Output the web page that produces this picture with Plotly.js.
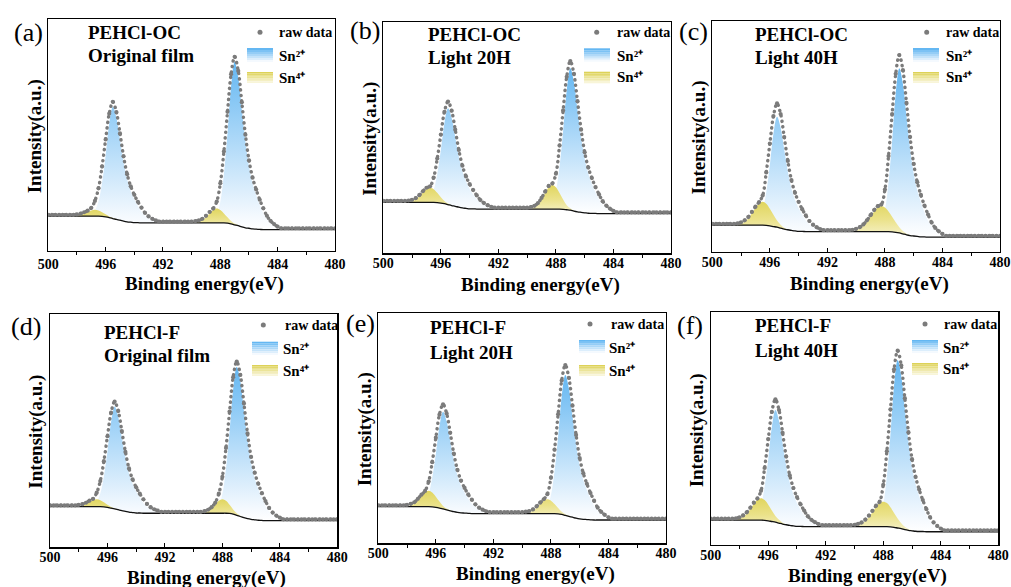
<!DOCTYPE html>
<html><head><meta charset="utf-8">
<script src="https://cdn.plot.ly/plotly-3.0.1.min.js"></script>
<style>
html,body{margin:0;padding:0;background:#fff;}
#chart{width:1011px;height:587px;}
.scatterlayer path.js-line{stroke-linecap:round !important;}
</style></head><body><div id="chart"></div>
<script>
// ---------------- DATA ----------------
const energy = [
500,499.75,499.5,499.25,499,498.75,498.5,498.25,498,497.75,
497.5,497.25,497,496.75,496.5,496.25,496,495.75,495.5,495.25,
495,494.75,494.5,494.25,494,493.75,493.5,493.25,493,492.75,
492.5,492.25,492,491.75,491.5,491.25,491,490.75,490.5,490.25,
490,489.75,489.5,489.25,489,488.75,488.5,488.25,488,487.75,
487.5,487.25,487,486.75,486.5,486.25,486,485.75,485.5,485.25,
485,484.75,484.5,484.25,484,483.75,483.5,483.25,483,482.75,
482.5,482.25,482,481.75,481.5,481.25,481,480.75,480.5,480.25,
480];
const tickValues = [500,496,492,488,484,480];
const minorTickValues = [498,494,490,486,482];
const panelLabels = ['(a)','(b)','(c)','(d)','(e)','(f)'];
const sampleNames = ['PEHCl-OC','PEHCl-OC','PEHCl-OC','PEHCl-F','PEHCl-F','PEHCl-F'];
const conditions = ['Original film','Light 20H','Light 40H','Original film','Light 20H','Light 40H'];
const seriesNames = ['raw data','Sn\u00b2\u207a','Sn\u2074\u207a'];
const xTitle = 'Binding energy(eV)';
const yTitle = 'Intensity(a.u.)';

// (a) PEHCl-OC original film
const rawA = [
15.6,15.6,15.6,15.6,15.6,15.6,15.6,15.6,15.8,16.1,
16.7,17.4,18.6,21.6,27.0,36.4,48.1,59.2,64.3,59.9,
50.7,40.8,33.1,27.9,24.2,21.2,18.7,16.4,14.9,13.9,
13.2,12.7,12.7,12.7,12.7,12.7,12.7,12.7,12.7,12.7,
12.7,12.9,13.2,13.9,15.2,16.8,18.3,21.3,29.2,42.9,
60.0,76.2,83.7,77.6,64.1,50.1,39.1,31.6,26.5,22.1,
18.4,15.2,13.0,11.6,10.5,9.8,9.8,9.8,9.8,9.8,
9.8,9.8,9.8,9.8,9.8,9.8,9.8,9.8,9.8,9.8,
9.8];
const baseA = [
15,15,15,15,15,15,15,15,15,15,
15,15,15,15,15,14.9,14.7,14.4,14.0,13.6,
13.3,12.9,12.6,12.4,12.2,12.2,12.1,12.1,12.1,12.1,
12.1,12.1,12.1,12.1,12.1,12.1,12.1,12.1,12.1,12.1,
12.1,12.1,12.1,12.1,12.1,12.1,12.1,12.1,12.1,12.1,
12.0,11.7,11.3,10.9,10.4,10.0,9.8,9.5,9.4,9.3,
9.2,9.2,9.2,9.2,9.2,9.2,9.2,9.2,9.2,9.2,
9.2,9.2,9.2,9.2,9.2,9.2,9.2,9.2,9.2,9.2,
9.2];
const sn2A = [
0,0,0,0,0,0,0,0,0,0,
0,0,0.7,2.4,6.3,14.5,26.5,40.5,48.2,43.9,
34.7,25.5,18.3,13.5,10.1,7.2,4.8,3.1,1.9,1.0,
0,0,0,0,0,0,0,0,0,0,
0,0,0,0,0,0,1.1,3.5,9.1,21.1,
38.7,59.1,70.3,64.0,50.6,37.3,26.7,19.7,14.8,10.5,
7.0,4.6,2.8,1.4,0,0,0,0,0,0,
0,0,0,0,0,0,0,0,0,0,
0];
const sn4A = [
0,0,0,0,0,0,0,0.1,0.2,0.5,
1.1,1.8,2.5,2.8,2.5,1.8,1.1,0.5,0.2,0.1,
0,0,0,0,0,0,0,0,0,0,
0,0,0,0,0,0,0,0,0,0,
0,0.2,0.5,1.2,2.5,4.1,5.6,6.2,5.6,4.1,
2.5,1.2,0.5,0.2,0,0,0,0,0,0,
0,0,0,0,0,0,0,0,0,0,
0,0,0,0,0,0,0,0,0,0,
0];

// (b) PEHCl-OC light 20H
const rawB = [
22.6,22.6,22.6,22.6,22.6,22.6,22.6,22.8,23.1,23.8,
25.1,26.8,28.3,28.9,32.7,40.9,51.3,61.1,65.5,61.6,
53.4,44.6,37.8,33.2,29.9,27.3,25.0,23.0,21.7,20.8,
20.1,19.7,19.7,19.7,19.7,19.7,19.7,19.7,19.7,19.7,
19.7,20.0,20.5,21.7,23.9,26.6,29.1,30.1,34.4,46.5,
61.7,76.2,83.0,77.5,65.7,53.4,43.6,37.0,32.5,28.6,
25.4,22.5,20.6,19.3,18.3,17.7,17.7,17.7,17.7,17.7,
17.7,17.7,17.7,17.7,17.7,17.7,17.7,17.7,17.7,17.7,
17.7];
const baseB = [
22,22,22,22,22,22,22,22,22,22,
22,22,22,22,22,21.9,21.7,21.4,21.0,20.6,
20.3,19.9,19.6,19.4,19.2,19.2,19.1,19.1,19.1,19.1,
19.1,19.1,19.1,19.1,19.1,19.1,19.1,19.1,19.1,19.1,
19.1,19.1,19.1,19.1,19.1,19.1,19.1,19.1,19.1,19.1,
19.0,18.8,18.6,18.2,17.9,17.7,17.5,17.3,17.2,17.2,
17.1,17.1,17.1,17.1,17.1,17.1,17.1,17.1,17.1,17.1,
17.1,17.1,17.1,17.1,17.1,17.1,17.1,17.1,17.1,17.1,
17.1];
const sn2B = [
0,0,0,0,0,0,0,0,0,0,
0,0,0.6,2.1,5.4,12.5,22.9,34.9,41.6,37.9,
30.0,22.0,15.8,11.6,8.7,6.2,4.2,2.7,1.7,0.8,
0,0,0,0,0,0,0,0,0,0,
0,0,0,0,0,0,0.9,3.1,8.0,18.4,
33.7,51.5,61.3,55.8,44.1,32.5,23.3,17.2,12.9,9.2,
6.1,4.0,2.5,1.2,0,0,0,0,0,0,
0,0,0,0,0,0,0,0,0,0,
0];
const sn4B = [
0,0,0,0,0,0,0,0.2,0.5,1.2,
2.5,4.2,5.7,6.3,5.7,4.2,2.5,1.2,0.5,0.2,
0,0,0,0,0,0,0,0,0,0,
0,0,0,0,0,0,0,0,0,0,
0,0.3,0.8,2.0,4.2,6.9,9.4,10.4,9.4,6.9,
4.2,2.0,0.8,0.3,0,0,0,0,0,0,
0,0,0,0,0,0,0,0,0,0,
0,0,0,0,0,0,0,0,0,0,
0];

// (c) PEHCl-OC light 40H
const rawC = [
12.1,12.1,12.1,12.1,12.1,12.1,12.1,12.3,12.7,13.6,
15.0,17.2,19.5,21.5,24.3,34.3,46.8,58.7,64.2,59.6,
49.6,39.3,31.0,25.5,21.6,18.4,15.7,13.3,11.7,10.6,
9.8,9.3,9.3,9.3,9.3,9.3,9.3,9.3,9.3,9.5,
9.9,10.6,11.8,13.6,15.8,18.0,19.7,20.4,26.9,41.4,
59.6,77.0,85.1,78.6,64.4,49.6,38.0,30.1,24.6,20.0,
16.1,12.6,10.3,8.8,7.7,6.9,6.9,6.9,6.9,6.9,
6.9,6.9,6.9,6.9,6.9,6.9,6.9,6.9,6.9,6.9,
6.9];
const baseC = [
11.5,11.5,11.5,11.5,11.5,11.5,11.5,11.5,11.5,11.5,
11.5,11.5,11.5,11.5,11.5,11.4,11.2,10.9,10.6,10.2,
9.8,9.5,9.2,9.0,8.8,8.8,8.7,8.7,8.7,8.7,
8.7,8.7,8.7,8.7,8.7,8.7,8.7,8.7,8.7,8.7,
8.7,8.7,8.7,8.7,8.7,8.7,8.7,8.7,8.7,8.7,
8.6,8.4,8.1,7.7,7.3,7.0,6.8,6.6,6.4,6.4,
6.3,6.3,6.3,6.3,6.3,6.3,6.3,6.3,6.3,6.3,
6.3,6.3,6.3,6.3,6.3,6.3,6.3,6.3,6.3,6.3,
6.3];
const sn2C = [
0,0,0,0,0,0,0,0,0,0,
0,0,0.7,2.4,6.2,14.3,26.3,40.2,47.8,43.5,
34.4,25.3,18.2,13.4,10.0,7.2,4.8,3.1,1.9,1.0,
0,0,0,0,0,0,0,0,0,0,
0,0,0,0,0,0,1.1,3.6,9.3,21.4,
39.2,59.9,71.3,64.9,51.3,37.8,27.1,20.0,15.0,10.7,
7.1,4.6,2.9,1.4,0,0,0,0,0,0,
0,0,0,0,0,0,0,0,0,0,
0];
const sn4C = [
0,0,0,0,0,0,0,0.2,0.6,1.5,
2.9,5.1,7.4,9.4,10.1,9.4,7.4,5.1,2.9,1.5,
0.6,0.2,0,0,0,0,0,0,0,0,
0,0,0,0,0,0,0,0,0,0.2,
0.6,1.3,2.5,4.3,6.5,8.7,10.4,11.1,10.4,8.7,
6.5,4.3,2.5,1.3,0.6,0.2,0,0,0,0,
0,0,0,0,0,0,0,0,0,0,
0,0,0,0,0,0,0,0,0,0,
0];

// (d) PEHCl-F original film
const rawD = [
18.0,18.0,18.0,18.0,18.0,18.0,18.0,18.0,18.2,18.5,
19.1,20.0,20.8,23.4,28.4,36.9,47.6,57.7,62.4,58.4,
49.8,40.9,33.8,29.1,25.7,23.0,20.6,18.6,17.2,16.3,
15.7,15.2,15.2,15.2,15.2,15.2,15.2,15.2,15.2,15.2,
15.2,15.2,15.2,15.5,16.1,17.2,19.1,23.0,30.2,42.6,
58.2,72.9,79.6,73.9,61.6,48.8,38.7,32.0,27.2,23.2,
19.8,16.9,14.9,13.6,12.7,12.0,12.0,12.0,12.0,12.0,
12.0,12.0,12.0,12.0,12.0,12.0,12.0,12.0,12.0,12.0,
12.0];
const baseD = [
17.4,17.4,17.4,17.4,17.4,17.4,17.4,17.4,17.4,17.4,
17.4,17.4,17.4,17.4,17.4,17.3,17.1,16.8,16.5,16.1,
15.7,15.4,15.1,14.9,14.7,14.7,14.6,14.6,14.6,14.6,
14.6,14.6,14.6,14.6,14.6,14.6,14.6,14.6,14.6,14.6,
14.6,14.6,14.6,14.6,14.6,14.6,14.6,14.6,14.6,14.6,
14.5,14.2,13.7,13.2,12.7,12.3,12.0,11.8,11.6,11.5,
11.4,11.4,11.4,11.4,11.4,11.4,11.4,11.4,11.4,11.4,
11.4,11.4,11.4,11.4,11.4,11.4,11.4,11.4,11.4,11.4,
11.4];
const sn2D = [
0,0,0,0,0,0,0,0,0,0,
0,0,0.7,2.2,5.7,13.1,24.1,36.8,43.8,39.9,
31.5,23.2,16.6,12.3,9.2,6.6,4.4,2.8,1.8,0.9,
0,0,0,0,0,0,0,0,0,0,
0,0,0,0,0,0,1.0,3.2,8.3,19.1,
35.0,53.5,63.7,58.0,45.9,33.8,24.2,17.8,13.4,9.6,
6.4,4.1,2.5,1.3,0,0,0,0,0,0,
0,0,0,0,0,0,0,0,0,0,
0];
const sn4D = [
0,0,0,0,0,0,0,0,0.2,0.5,
1.1,2.0,2.8,3.2,2.8,2.0,1.1,0.5,0.2,0,
0,0,0,0,0,0,0,0,0,0,
0,0,0,0,0,0,0,0,0,0,
0,0,0,0.3,0.9,2.0,3.7,5.3,6.0,5.3,
3.7,2.0,0.9,0.3,0,0,0,0,0,0,
0,0,0,0,0,0,0,0,0,0,
0,0,0,0,0,0,0,0,0,0,
0];

// (e) PEHCl-F light 20H
const rawE = [
16.5,16.5,16.5,16.5,16.5,16.5,16.5,16.5,16.7,17.1,
17.8,19.3,21.1,22.7,26.8,35.2,45.8,55.8,60.3,56.3,
47.9,38.9,31.9,27.2,24.0,21.2,18.9,16.9,15.5,14.6,
13.9,13.5,13.5,13.5,13.5,13.5,13.5,13.5,13.5,13.5,
13.5,13.7,14.0,14.7,16.0,17.6,19.1,21.3,28.4,40.6,
56.0,70.6,77.3,71.7,59.7,47.0,37.0,30.4,25.8,21.8,
18.5,15.5,13.6,12.3,11.3,10.7,10.7,10.7,10.7,10.7,
10.7,10.7,10.7,10.7,10.7,10.7,10.7,10.7,10.7,10.7,
10.7];
const baseE = [
15.9,15.9,15.9,15.9,15.9,15.9,15.9,15.9,15.9,15.9,
15.9,15.9,15.9,15.9,15.9,15.8,15.6,15.3,14.9,14.5,
14.1,13.7,13.4,13.2,13.1,13.0,12.9,12.9,12.9,12.9,
12.9,12.9,12.9,12.9,12.9,12.9,12.9,12.9,12.9,12.9,
12.9,12.9,12.9,12.9,12.9,12.9,12.9,12.9,12.9,12.9,
12.8,12.5,12.1,11.7,11.3,10.9,10.6,10.4,10.3,10.2,
10.1,10.1,10.1,10.1,10.1,10.1,10.1,10.1,10.1,10.1,
10.1,10.1,10.1,10.1,10.1,10.1,10.1,10.1,10.1,10.1,
10.1];
const sn2E = [
0,0,0,0,0,0,0,0,0,0,
0,0,0.6,2.1,5.5,12.7,23.2,35.4,42.2,38.4,
30.4,22.4,16.0,11.8,8.9,6.3,4.2,2.7,1.7,0.8,
0,0,0,0,0,0,0,0,0,0,
0,0,0,0,0,0,0.9,3.0,7.9,18.3,
33.5,51.2,60.9,55.4,43.8,32.3,23.1,17.1,12.8,9.1,
6.1,4.0,2.4,1.2,0,0,0,0,0,0,
0,0,0,0,0,0,0,0,0,0,
0];
const sn4E = [
0,0,0,0,0,0,0,0,0.2,0.6,
1.3,2.8,4.6,6.2,6.9,6.2,4.6,2.8,1.3,0.6,
0.2,0,0,0,0,0,0,0,0,0,
0,0,0,0,0,0,0,0,0,0,
0,0.2,0.5,1.2,2.5,4.1,5.6,6.2,5.6,4.1,
2.5,1.2,0.5,0.2,0,0,0,0,0,0,
0,0,0,0,0,0,0,0,0,0,
0,0,0,0,0,0,0,0,0,0,
0];

// (f) PEHCl-F light 40H
const rawF = [
11.3,11.3,11.3,11.3,11.3,11.3,11.3,11.5,11.9,12.7,
14.0,16.0,18.2,20.0,23.3,33.1,45.5,57.2,62.6,58.0,
48.2,38.0,29.9,24.5,20.6,17.5,14.8,12.4,10.8,9.8,
9.0,8.5,8.5,8.5,8.5,8.5,8.5,8.5,8.5,8.5,
8.7,9.1,9.7,10.9,12.6,14.7,16.9,18.6,25.9,40.3,
58.3,75.5,83.5,77.2,63.1,48.5,36.9,29.2,23.8,19.3,
15.4,12.0,9.7,8.2,7.1,6.3,6.3,6.3,6.3,6.3,
6.3,6.3,6.3,6.3,6.3,6.3,6.3,6.3,6.3,6.3,
6.3];
const baseF = [
10.7,10.7,10.7,10.7,10.7,10.7,10.7,10.7,10.7,10.7,
10.7,10.7,10.7,10.7,10.7,10.6,10.4,10.1,9.8,9.4,
9.0,8.7,8.4,8.2,8.0,8.0,7.9,7.9,7.9,7.9,
7.9,7.9,7.9,7.9,7.9,7.9,7.9,7.9,7.9,7.9,
7.9,7.9,7.9,7.9,7.9,7.9,7.9,7.9,7.9,7.9,
7.8,7.6,7.3,7.0,6.6,6.3,6.1,5.9,5.8,5.8,
5.7,5.7,5.7,5.7,5.7,5.7,5.7,5.7,5.7,5.7,
5.7,5.7,5.7,5.7,5.7,5.7,5.7,5.7,5.7,5.7,
5.7];
const sn2F = [
0,0,0,0,0,0,0,0,0,0,
0,0,0.7,2.4,6.3,14.5,26.5,40.5,48.2,43.9,
34.7,25.5,18.3,13.5,10.1,7.2,4.8,3.1,1.9,1.0,
0,0,0,0,0,0,0,0,0,0,
0,0,0,0,0,0,1.1,3.6,9.4,21.7,
39.7,60.6,72.2,65.7,52.0,38.3,27.4,20.2,15.2,10.8,
7.2,4.7,2.9,1.4,0,0,0,0,0,0,
0,0,0,0,0,0,0,0,0,0,
0];
const sn4F = [
0,0,0,0,0,0,0,0.2,0.6,1.4,
2.7,4.7,6.9,8.7,9.4,8.7,6.9,4.7,2.7,1.4,
0.6,0.2,0,0,0,0,0,0,0,0,
0,0,0,0,0,0,0,0,0,0,
0.2,0.6,1.2,2.4,4.1,6.2,8.4,10.1,10.7,10.1,
8.4,6.2,4.1,2.4,1.2,0.6,0.2,0,0,0,
0,0,0,0,0,0,0,0,0,0,
0,0,0,0,0,0,0,0,0,0,
0];

// ---------------- LAYOUT SPEC (pixels) ----------------
const W = 1011, H = 587;
const panelBoxes = [
  [48.3,19,335,251],[383.3,21.7,671,253.3],[712.3,20.7,1000,251.7],
  [50,314,337.3,547.3],[378.3,312.7,666,543.3],[710.7,312.3,998.3,545]];
const labelPos = [[45,32],[381.7,30],[710,31],[43.3,326.7],[376.7,323],[705,325]];
const namePos = [[86,32.5,55.5],[426,34.2,57.5],[753,34.2,57.5],[102,332,355.5],[428,327.5,352.5],[753,325.5,350.5]];
const xTitleY = [284,285,284,578,574,576];
const tickShift = [0,-3,-3,-3,-3,-3];
// dotX, rawX, rawY, swX0, swX1, blueY0, blueY1, yelY0, yelY1, snX, sn2Y, sn4Y
const legendPos = [
  [260,277,32.3,247,273,48,62,72,83,277,55.5,78],
  [596.7,615,32.3,584,610,48.3,61.7,71.7,83.3,615,56,77.5],
  [926.7,944,32.3,913,939,48,62,72,83,944,56,77.5],
  [263.3,283,325,252,278,341.7,355,365,376,281,349,371],
  [590,609,324,579,605,340,353,365,376,607,347.5,370.5],
  [925,942,324,912,938,340,353,363,375,941,347.5,368.5]];

const serif = 'Liberation Serif, Times New Roman, Times, serif';
const rawColor = '#7b7b7b';
const blueScale = [[0,'#ffffff'],[0.08,'#f4f9fe'],[1,'#64b7f2']];
const yellowScale = [[0,'#f6f2cc'],[0.5,'#ebe28a'],[1,'#e0d55e']];

const panels = [
  {raw: rawA, base: baseA, sn2: sn2A, sn4: sn4A},
  {raw: rawB, base: baseB, sn2: sn2B, sn4: sn4B},
  {raw: rawC, base: baseC, sn2: sn2C, sn4: sn4C},
  {raw: rawD, base: baseD, sn2: sn2D, sn4: sn4D},
  {raw: rawE, base: baseE, sn2: sn2E, sn4: sn4E},
  {raw: rawF, base: baseF, sn2: sn2F, sn4: sn4F}];

const px = x => x / W, py = y => 1 - y / H;
const traces = [], annotations = [], shapes = [];
const layout = {width: W, height: H, margin: {l:0,r:0,t:0,b:0}, paper_bgcolor:'#fff', plot_bgcolor:'#fff', showlegend:false,
  font:{family: serif, color:'#000'}};

function txt(x, y, text, size, extra) {
  annotations.push(Object.assign({xref:'paper', yref:'paper', x: px(x), y: py(y), text: text, showarrow: false,
    xanchor:'left', yanchor:'middle', font:{family: serif, size: size, color:'#000', weight:'bold'}}, extra || {}));
}
function mix(c1, c2, t) {
  const a = c1.match(/\w\w/g).map(h => parseInt(h,16)), b = c2.match(/\w\w/g).map(h => parseInt(h,16));
  return 'rgb(' + a.map((v,i) => Math.round(v + (b[i]-v)*t)).join(',') + ')';
}
function swatch(x0, x1, y0, y1, top, bottom) {
  const n = 7;
  for (let k = 0; k < n; k++) {
    shapes.push({type:'rect', xref:'paper', yref:'paper', x0: px(x0), x1: px(x1),
      y0: py(y0 + (y1-y0)*k/n), y1: py(y0 + (y1-y0)*(k+1)/n), fillcolor: mix(top, bottom, k/(n-1)), line:{width:0}, layer:'above'});
  }
}

panels.forEach((p, k) => {
  const sfx = k ? String(k+1) : '';
  const xa = 'x' + sfx, ya = 'y' + sfx;
  const box = panelBoxes[k];
  const sn2Top = p.base.map((b,i) => b + p.sn2[i]);
  const sn4Top = p.base.map((b,i) => b + p.sn4[i]);
  const common = {x: energy, xaxis: xa, yaxis: ya, hoverinfo:'skip', showlegend:false};
  traces.push(Object.assign({}, common, {y: p.base, mode:'lines', line:{width:0, shape:'spline'}}));
  traces.push(Object.assign({}, common, {y: sn2Top, name: seriesNames[1], mode:'lines', line:{width:0, shape:'spline'},
    fill:'tonexty', fillcolor:'rgba(100,183,242,0.6)', fillgradient:{type:'vertical', colorscale: blueScale}}));
  traces.push(Object.assign({}, common, {y: p.base, mode:'lines', line:{width:0, shape:'spline'}}));
  traces.push(Object.assign({}, common, {y: sn4Top, name: seriesNames[2], mode:'lines', line:{width:0, shape:'spline'},
    fill:'tonexty', fillcolor:'rgba(225,214,90,0.8)', fillgradient:{type:'vertical', colorscale: yellowScale}}));
  traces.push(Object.assign({}, common, {y: p.base, mode:'lines', line:{color:'#111', width:1.3, shape:'spline'}}));
  traces.push(Object.assign({}, common, {y: p.raw, name: seriesNames[0], mode:'lines+markers',
    line:{color: rawColor, width:3.4, dash:'0.3px,5.2px', shape:'spline'}, marker:{size:4.2, color: rawColor}}));

  layout['xaxis' + sfx] = {domain:[px(box[0]), px(box[2])], anchor: ya, range:[500,480], autorange:false,
    tickmode:'array', tickvals: tickValues, ticktext: tickValues.map(String),
    ticks:'inside', ticklen:4, tickwidth:1, tickcolor:'#000', ticklabelstandoff: tickShift[k],
    minor:{tickmode:'array', tickvals: minorTickValues, ticks:'outside', ticklen:3, tickwidth:1, tickcolor:'#000'},
    showline:true, mirror:true, linecolor:'#000', linewidth:1.2, showgrid:false, zeroline:false, fixedrange:true,
    tickfont:{family: serif, size:14, color:'#000', weight:'bold'}};
  layout['yaxis' + sfx] = {domain:[py(box[3]), py(box[1])], anchor: xa, range:[0,100], autorange:false,
    showticklabels:false, ticks:'', showline:true, mirror:true, linecolor:'#000', linewidth:1.2,
    showgrid:false, zeroline:false, fixedrange:true};

  // texts
  txt(labelPos[k][0], labelPos[k][1], panelLabels[k], 26, {xanchor:'right', font:{family: serif, size:26, color:'#000'}});
  txt(namePos[k][0], namePos[k][1], sampleNames[k], 19);
  txt(namePos[k][0], namePos[k][2], conditions[k], 19);
  txt((box[0]+box[2])/2 + 13, xTitleY[k], xTitle, 19, {xanchor:'center'});
  txt(box[0] - 13.5, (box[1]+box[3])/2 + 1.5, yTitle, 19, {xanchor:'center', textangle:-90});
  // legend
  const L = legendPos[k];
  shapes.push({type:'circle', xref:'paper', yref:'paper', x0: px(L[0]-2.5), x1: px(L[0]+2.5), y0: py(L[2]+2.5), y1: py(L[2]-2.5),
    fillcolor: rawColor, line:{width:0}, layer:'above'});
  txt(L[1], L[2], seriesNames[0], 14);
  swatch(L[3], L[4], L[5], L[6], '64b7f2', 'f4f9fe');
  swatch(L[3], L[4], L[7], L[8], 'ddd257', 'f8f5d8');
  txt(L[9], L[10], seriesNames[1], 15);
  txt(L[9], L[11], seriesNames[2], 15);
});
layout.annotations = annotations;
layout.shapes = shapes;
Plotly.newPlot('chart', traces, layout, {displayModeBar:false, staticPlot:true});
</script></body></html>
